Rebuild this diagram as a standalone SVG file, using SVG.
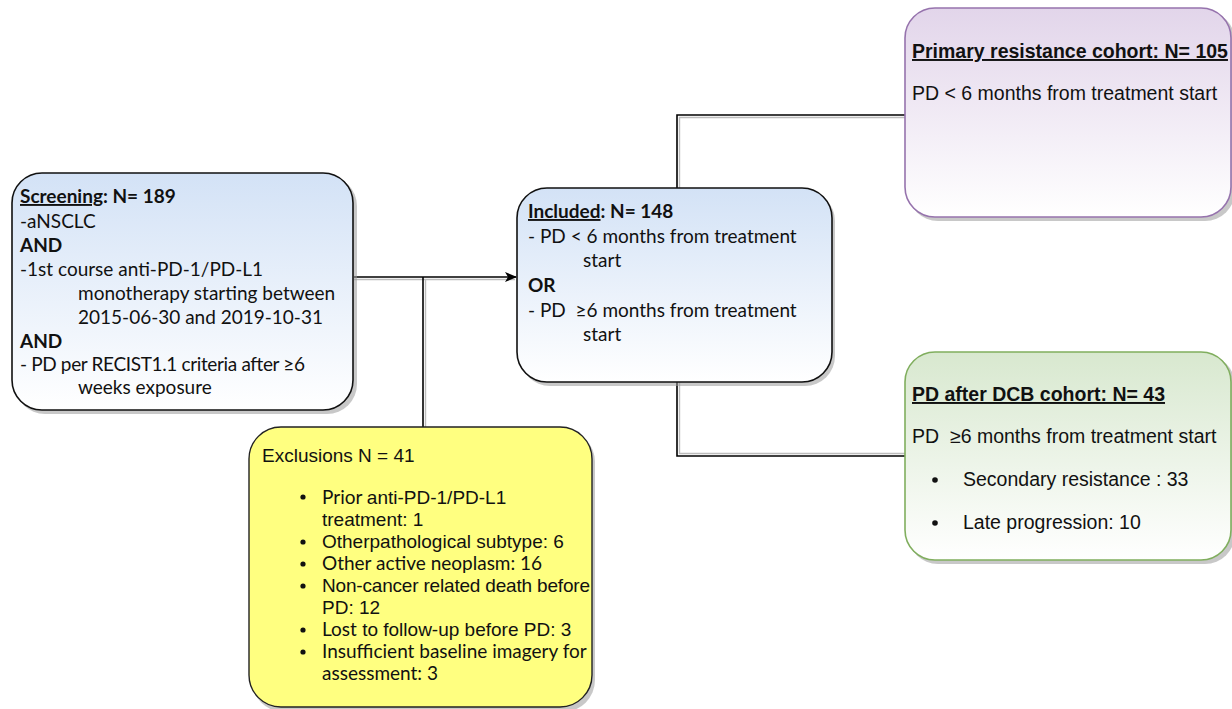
<svg xmlns="http://www.w3.org/2000/svg" width="1232" height="709" viewBox="0 0 1232 709">
<defs>
<linearGradient id="gBlue" x1="0" y1="0" x2="0" y2="1"><stop offset="0" stop-color="#d3e2f6"/><stop offset="1" stop-color="#ffffff"/></linearGradient>
<linearGradient id="gPurple" x1="0" y1="0" x2="0" y2="1"><stop offset="0" stop-color="#e2d5ea"/><stop offset="1" stop-color="#ffffff"/></linearGradient>
<linearGradient id="gGreen" x1="0" y1="0" x2="0" y2="1"><stop offset="0" stop-color="#d8e8cf"/><stop offset="1" stop-color="#ffffff"/></linearGradient>
<marker id="arr" markerWidth="12" markerHeight="12" refX="11" refY="6" orient="auto" markerUnits="userSpaceOnUse"><path d="M0,1 L12,6 L0,11 L3,6 z" fill="#000"/></marker>
</defs>
<style>
.shadow{fill:#9a9a9a;opacity:0.55}
.cal{font-family:Lato,"Open Sans","Liberation Sans",sans-serif;font-size:19px;fill:#111}
.ar{font-family:"Liberation Sans",Arial,sans-serif;font-size:19.5px;fill:#111}
.ex{font-size:19px}
.b{font-weight:bold}
.u{text-decoration:underline}
.ln{stroke:#000;stroke-width:1.6;fill:none}
.ln2{stroke:#bdbdbd;stroke-width:1.4;fill:none}
</style>
<g id="connectors">
<path class="ln2" d="M354,279.5 H515"/>
<path class="ln" d="M354,277 H516" marker-end="url(#arr)"/>
<path class="ln2" d="M425.5,279 V427"/>
<path class="ln" d="M423,277 V427"/>
<path class="ln2" d="M679.5,188 V117.5 H905"/>
<path class="ln" d="M677,188 V115 H905"/>
<path class="ln2" d="M679.5,382 V453.5 H905"/>
<path class="ln" d="M677,382 V456 H905"/>
</g>
<g id="screening">
<rect class="shadow" x="15" y="176" width="342" height="238" rx="30"/>
<rect x="12" y="173" width="341" height="237" rx="30" fill="url(#gBlue)" stroke="#111" stroke-width="1.6"/>
<text class="cal b" x="20" y="203"><tspan class="u">Screening</tspan>: N= 189</text>
<text class="cal" x="20" y="228">-aNSCLC</text>
<text class="cal b" x="20" y="252">AND</text>
<text class="cal" x="20" y="276">-1st course anti-PD-1/PD-L1</text>
<text class="cal" x="78" y="300">monotherapy starting between</text>
<text class="cal" x="78" y="324">2015-06-30 and 2019-10-31</text>
<text class="cal b" x="20" y="348">AND</text>
<text class="cal" x="20" y="371" textLength="285">- PD per RECIST1.1 criteria after ≥6</text>
<text class="cal" x="78" y="394">weeks exposure</text>
</g>
<g id="included">
<rect class="shadow" x="520" y="191" width="315" height="195" rx="30"/>
<rect x="517" y="188" width="315" height="194" rx="30" fill="url(#gBlue)" stroke="#111" stroke-width="1.6"/>
<text class="cal b" x="528" y="218"><tspan class="u">Included</tspan>: N= 148</text>
<text class="cal" x="528" y="243">- PD &lt; 6 months from treatment</text>
<text class="cal" x="583" y="267">start</text>
<text class="cal b" x="528" y="292">OR</text>
<text class="cal" x="528" y="317" xml:space="preserve">- PD  ≥6 months from treatment</text>
<text class="cal" x="583" y="341">start</text>
</g>
<g id="primary">
<rect class="shadow" x="908" y="11" width="327" height="210" rx="30"/>
<rect x="905" y="8" width="326" height="209" rx="30" fill="url(#gPurple)" stroke="#9673ad" stroke-width="1.6"/>
<text class="ar b u" x="912" y="58">Primary resistance cohort: N= 105</text>
<text class="ar" x="912" y="100">PD &lt; 6 months from treatment start</text>
</g>
<g id="dcb">
<rect class="shadow" x="908" y="355" width="327" height="209" rx="30"/>
<rect x="905" y="352" width="326" height="208" rx="30" fill="url(#gGreen)" stroke="#80ae5e" stroke-width="1.6"/>
<text class="ar b u" x="912" y="401">PD after DCB cohort: N= 43</text>
<text class="ar" x="912" y="443" xml:space="preserve">PD  ≥6 months from treatment start</text>
<circle cx="935" cy="480" r="2.8" fill="#111"/>
<text class="ar" x="963" y="486">Secondary resistance : 33</text>
<circle cx="935" cy="523" r="2.8" fill="#111"/>
<text class="ar" x="963" y="529">Late progression: 10</text>
</g>
<g id="exclusions">
<rect class="shadow" x="252" y="430" width="343" height="282" rx="32"/>
<rect x="249" y="427" width="343" height="280" rx="32" fill="#ffff80" stroke="#222" stroke-width="1.4"/>
<text class="ar ex" x="262" y="462">Exclusions N = 41</text>
<g fill="#111">
<circle cx="303" cy="497" r="2.6"/><circle cx="303" cy="542" r="2.6"/><circle cx="303" cy="564" r="2.6"/>
<circle cx="303" cy="586" r="2.6"/><circle cx="303" cy="630" r="2.6"/><circle cx="303" cy="652" r="2.6"/>
</g>
<text class="cal ex" x="322" y="504">Prior <tspan class="ar ex">anti-PD-1/PD-L1</tspan></text>
<text class="ar ex" x="322" y="526">treatment: 1</text>
<text class="ar ex" x="322" y="548">Otherpathological subtype: 6</text>
<text class="cal ex" x="322" y="570">Other active neoplasm: 16</text>
<text class="ar ex" x="322" y="592" textLength="268">Non-cancer related death before</text>
<text class="ar ex" x="322" y="614">PD: 12</text>
<text class="ar ex" x="322" y="636"><tspan class="cal ex">Lost</tspan> to follow-up before PD: 3</text>
<text class="cal ex" x="322" y="658">Insufficient baseline imagery for</text>
<text class="cal ex" x="322" y="680">assessment: 3</text>
</g>
</svg>
